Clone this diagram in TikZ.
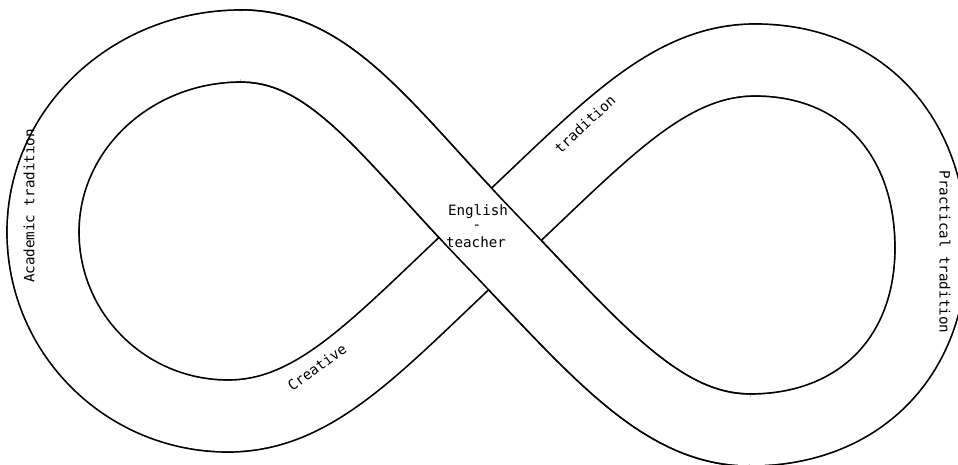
\documentclass[tikz,border=0pt]{standalone}
\usepackage{fontspec}
\newfontfamily\twfont{DejaVu Sans Mono}
\begin{document}
\begin{tikzpicture}[x=1pt,y=1pt,
  band/.style={draw=black, line width=1.7pt, double=white, double distance=70.3pt},
  seamcover/.style={draw=white, line width=67pt},
  lbl/.style={font=\twfont\fontsize{14.2}{16}\selectfont, inner sep=0pt}]
\useasboundingbox (0,0) rectangle (958,464);
\clip (0,0) rectangle (958,464);
\coordinate (K) at (490,225);
\coordinate (RT) at (755,404);
\coordinate (RR) at (931,216);
\coordinate (RB) at (750,34);
\coordinate (LT) at (241,418);
\coordinate (LL) at (43,232);
\coordinate (LB) at (228,48);
% whole ribbon
\path[band] (K) .. controls (600,327) and (665,404) .. (RT)
  .. controls (861,404) and (931,329) .. (RR)
  .. controls (931,107) and (859,34) .. (RB)
  .. controls (660,34) and (594,117) .. (K)
  .. controls (386,333) and (331,418) .. (LT)
  .. controls (132,418) and (43,335) .. (LL)
  .. controls (43,130) and (126,48) .. (LB)
  .. controls (318,48) and (380,123) .. (K);
% over strand
\path[band] (RB) .. controls (660,34) and (594,117) .. (K)
  .. controls (386,333) and (331,418) .. (LT);
\path[seamcover] ([xshift=-8pt]RB) -- ([xshift=8pt]RB);
\path[seamcover] ([xshift=-8pt]LT) -- ([xshift=8pt]LT);
% labels
\node[lbl, rotate=90] (acad) at (29,258) {Academic tradition};
\node[lbl, rotate=-90] (prac) at (945,212) {Practical tradition};
\node[lbl] (eng) at (478,252) {English};
\node[lbl] (dash) at (477,237) {-};
\node[lbl] (teach) at (476,222) {teacher};
\node[lbl, rotate=36] (crea) at (317,97) {Creative};
\node[lbl, rotate=43] (trad) at (585,340) {tradition};
\end{tikzpicture}
\end{document}
